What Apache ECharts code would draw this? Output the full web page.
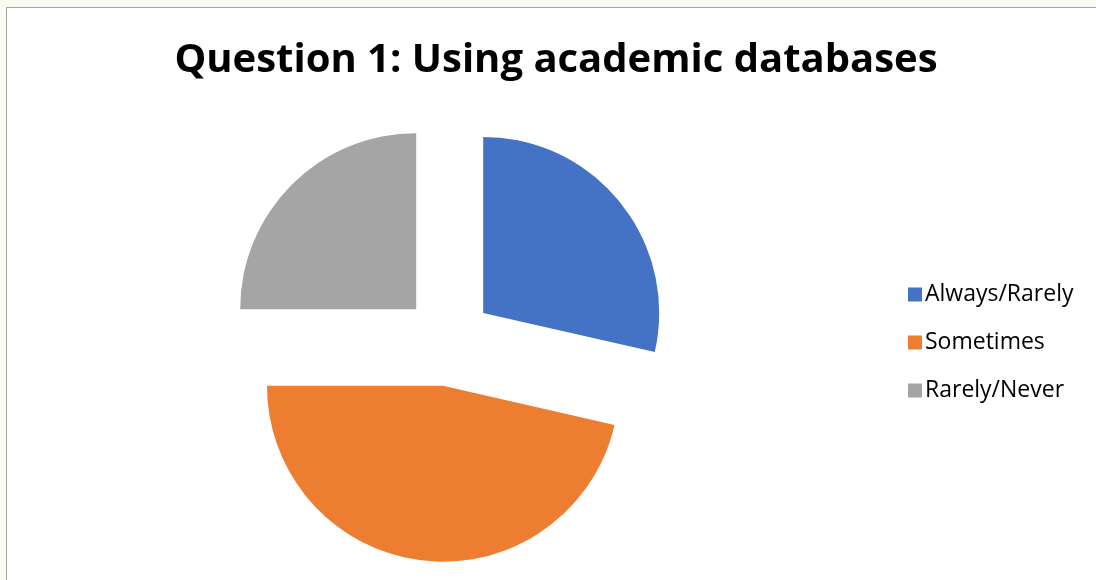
<!DOCTYPE html>
<html>
<head>
<meta charset="utf-8">
<script src="https://cdn.jsdelivr.net/npm/echarts@6/dist/echarts.min.js"></script>
<style>
  html, body { margin: 0; padding: 0; background: #fafaf3; overflow: hidden; }
  #frame { position: absolute; left: 6px; top: 7px; width: 1200px; height: 700px;
           background: #fff; border-left: 1px solid #a6a6a6; border-top: 1px solid #a6a6a6; }
  #main { position: absolute; left: 0; top: 0; width: 1096px; height: 580px; }
</style>
</head>
<body>
<div id="frame"></div>
<div id="main"></div>
<script>
// answer categories and counts
var categories = ['Always/Rarely', 'Sometimes', 'Rarely/Never'];
var counts = [8, 13, 7];
var colors = ['#4472C4', '#ED7D31', '#A5A5A5'];

var pieData = categories.map(function (name, i) {
  return { name: name, value: counts[i], selected: true, itemStyle: { color: colors[i] } };
});

var myChart = echarts.init(document.getElementById('main'));
myChart.setOption({
  animation: false,
  backgroundColor: 'transparent',
  title: {
    text: 'Question 1: Using academic databases',
    left: 551,
    top: 36,
    textAlign: 'center',
    textStyle: { fontFamily: 'Open Sans', fontWeight: 'bold', fontSize: 40, color: '#000' }
  },
  legend: {
    orient: 'vertical',
    left: 903,
    top: 278,
    itemWidth: 14,
    itemHeight: 14,
    itemGap: 25,
    icon: 'rect',
    textStyle: { fontFamily: 'Open Sans', fontSize: 23, color: '#000', padding: [0, 0, 0, -2] },
    data: categories
  },
  series: [{
    type: 'pie',
    center: [448, 341],
    radius: 176,
    startAngle: 90,
    selectedMode: 'multiple',
    selectedOffset: 45,
    label: { show: false },
    labelLine: { show: false },
    itemStyle: { borderWidth: 0 },
    emphasis: { scale: false },
    data: pieData
  }]
});
</script>
</body>
</html>
